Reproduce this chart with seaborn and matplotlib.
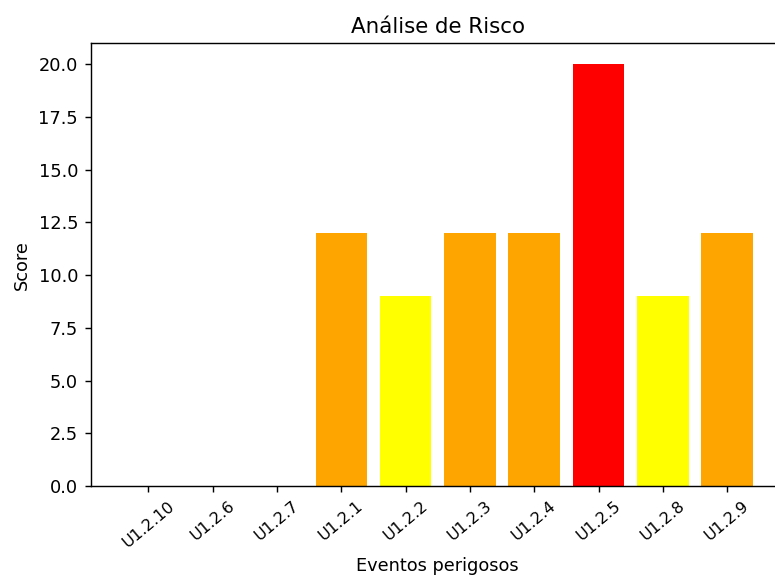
import matplotlib
matplotlib.use("Agg")
import matplotlib.pyplot as plt
import seaborn as sns

# dados
eventos = ["U1.2.10", "U1.2.6", "U1.2.7", "U1.2.1", "U1.2.2",
           "U1.2.3", "U1.2.4", "U1.2.5", "U1.2.8", "U1.2.9"]
scores = [0, 0, 0, 12, 9, 12, 12, 20, 9, 12]
cores = ["orange", "orange", "orange", "orange", "yellow",
         "orange", "orange", "red", "yellow", "orange"]

fig = plt.figure(figsize=(775 / 128, 575 / 128), dpi=128)
ax = fig.add_axes([0.1168, 0.1548, 0.8961, 0.7699])

sns.barplot(x=eventos, y=scores, hue=eventos, palette=cores,
            saturation=1, legend=False, width=0.8, ax=ax)

ax.set_xlim(-0.9, 9.9)
ax.set_ylim(0, 21)
ax.set_title("Análise de Risco")
ax.set_xlabel("Eventos perigosos")
ax.set_ylabel("Score")
plt.setp(ax.get_xticklabels(), rotation=40, fontsize=9)

plt.savefig("out.png", dpi=128)
plt.close()
